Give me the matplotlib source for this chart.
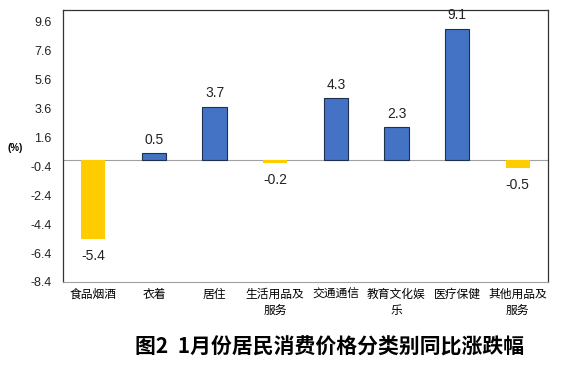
import numpy as np
import matplotlib.pyplot as plt

plt.rcParams['font.family'] = ['Liberation Sans', 'Noto Sans CJK SC', 'DejaVu Sans']

categories = ['食品烟酒', '衣着', '居住', '生活用品及\n服务', '交通通信', '教育文化娱\n乐', '医疗保健', '其他用品及\n服务']
values = [-5.4, 0.5, 3.7, -0.2, 4.3, 2.3, 9.1, -0.5]
yticks = [9.6, 7.6, 5.6, 3.6, 1.6, -0.4, -2.4, -4.4, -6.4, -8.4]
title = '图2  1月份居民消费价格分类别同比涨跌幅'

fig = plt.figure(figsize=(5.73, 3.73), dpi=100)
ax = fig.add_axes([63 / 573, 1 - 282 / 373, 485 / 573, 272 / 373])

x = np.arange(len(categories))
for xi, v in zip(x, values):
    if v >= 0:
        ax.bar(xi, v, width=0.4, color='#4472C4', edgecolor='#1f2f4f', linewidth=0.8, zorder=3)
        ax.text(xi, v + 0.45, f'{v:.1f}', ha='center', va='bottom', fontsize=10, color='#222222')
    else:
        ax.bar(xi, v, width=0.4, color='#FFCC00', linewidth=0, zorder=3)
        ax.text(xi, v - 0.7, f'{v:.1f}', ha='center', va='top', fontsize=10, color='#222222')

ax.axhline(0, color='#a0a0a0', linewidth=0.8, zorder=2)
ax.set_xlim(-0.5, len(categories) - 0.5)
ax.set_ylim(-8.4, 10.4)
ax.set_yticks(yticks)
ax.set_yticklabels([f'{t:.1f}' for t in yticks], fontsize=9, color='#222222')
ax.set_xticks(x)
ax.set_xticklabels(categories, fontsize=8.5, linespacing=1.45)
ax.tick_params(axis='y', length=0, pad=8)
ax.tick_params(axis='x', length=0, pad=5)
for side in ['left', 'top', 'right']:
    ax.spines[side].set_color('#333333')
    ax.spines[side].set_linewidth(0.9)
ax.spines['bottom'].set_color('#a0a0a0')
ax.spines['bottom'].set_linewidth(0.8)

fig.text(8 / 573, 1 - 148 / 373, '(%)', fontsize=7, ha='left', va='center', weight='bold')
fig.text(330 / 573, 1 - 347 / 373, title, fontsize=15, ha='center', va='center', weight='bold',
         family=['Noto Sans CJK SC', 'DejaVu Sans'])

fig.savefig('out.png', dpi=100)
